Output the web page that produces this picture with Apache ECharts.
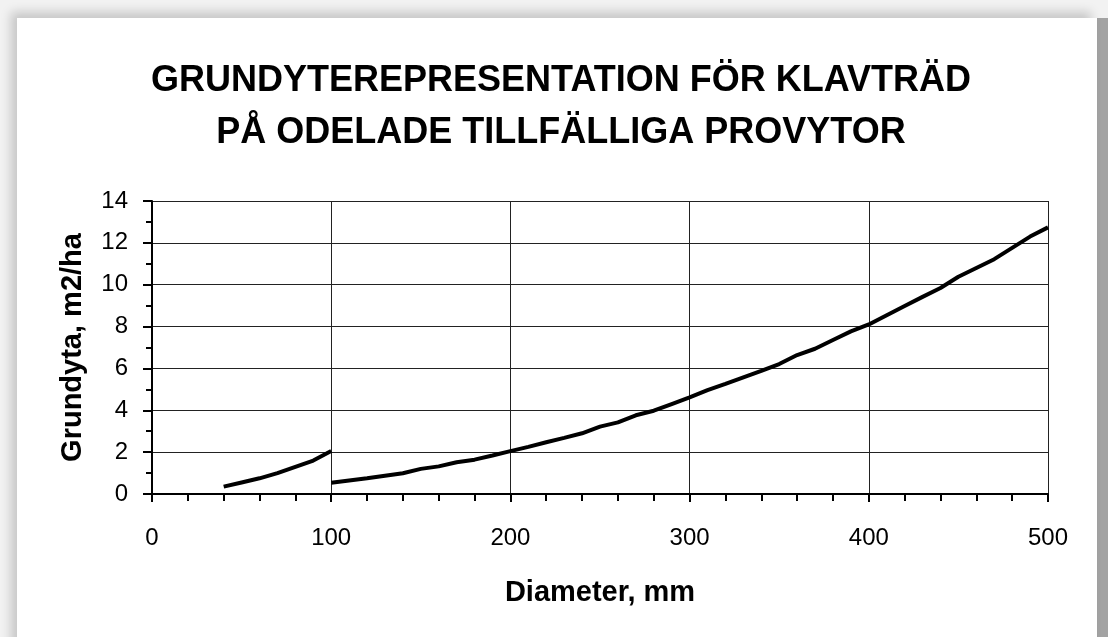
<!DOCTYPE html>
<html>
<head>
<meta charset="utf-8">
<script src="https://cdn.jsdelivr.net/npm/echarts@6/dist/echarts.min.js"></script>
<style>
  html, body { margin: 0; padding: 0; width: 1108px; height: 637px; overflow: hidden; background: #f2f2f2; }
  #frame {
    position: absolute; left: 17px; top: 18px; width: 1080px; height: 640px;
    background: #fff;
    box-shadow: -6px -6px 10px rgba(0,0,0,0.18), 11px 0 0 #a3a3a3;
  }
  #chart { position: absolute; left: 0; top: 0; width: 1108px; height: 637px; }
</style>
</head>
<body>
<div id="frame"></div>
<div id="chart"></div>
<script>
// segment 1: diameters 40-100 mm
const diamA = [40, 50, 60, 70, 80, 90, 100];
const areaA = [0.35, 0.55, 0.75, 1.0, 1.3, 1.6, 2.05];

// segment 2: diameters 100-500 mm
const diamB = [100, 110, 120, 130, 140, 150, 160, 170, 180, 190, 200,
  210, 220, 230, 240, 250, 260, 270, 280, 290, 300,
  310, 320, 330, 340, 350, 360, 370, 380, 390, 400,
  410, 420, 430, 440, 450, 460, 470, 480, 490, 500];
const areaB = [0.54, 0.65, 0.75, 0.87, 0.99, 1.2, 1.32, 1.52, 1.64, 1.84, 2.05,
  2.25, 2.47, 2.68, 2.9, 3.22, 3.42, 3.76, 3.98, 4.3, 4.62,
  4.96, 5.26, 5.57, 5.88, 6.21, 6.64, 6.94, 7.36, 7.77, 8.1,
  8.54, 8.98, 9.42, 9.84, 10.38, 10.8, 11.22, 11.76, 12.3, 12.74];

const titleText = 'GRUNDYTEREPRESENTATION FÖR KLAVTRÄD\nPÅ ODELADE TILLFÄLLIGA PROVYTOR';

const pairs = (xs, ys) => xs.map((x, i) => [x, ys[i]]);
const font = '"Liberation Sans", Arial, sans-serif';

const chart = echarts.init(document.getElementById('chart'), null, {renderer: 'canvas'});
chart.setOption({
  animation: false,
  backgroundColor: 'transparent',
  title: {
    text: titleText,
    left: 556, top: 50, textAlign: 'center',
    textStyle: {fontFamily: font, fontSize: 36, fontWeight: 'bold', color: '#000', lineHeight: 52}
  },
  grid: {left: 152, right: 60, top: 201, bottom: 143},
  xAxis: {
    type: 'value', min: 0, max: 500, interval: 100,
    name: 'Diameter, mm', nameLocation: 'middle', nameGap: 84,
    nameTextStyle: {fontFamily: font, fontSize: 29, fontWeight: 'bold', color: '#000'},
    axisLine: {show: true, onZero: false, lineStyle: {color: '#000', width: 2}},
    axisTick: {show: true, inside: false, length: 8, lineStyle: {color: '#000', width: 2}},
    minorTick: {show: true, splitNumber: 5, length: 7, lineStyle: {color: '#000', width: 2}},
    axisLabel: {fontFamily: font, fontSize: 24, color: '#000', margin: 32},
    splitLine: {show: true, lineStyle: {color: '#222', width: 1}}
  },
  yAxis: {
    type: 'value', min: 0, max: 14, interval: 2,
    name: 'Grundyta, m2/ha', nameLocation: 'middle', nameGap: 65,
    nameTextStyle: {fontFamily: font, fontSize: 29, fontWeight: 'bold', color: '#000'},
    axisLine: {show: true, lineStyle: {color: '#000', width: 2}},
    axisTick: {show: true, inside: false, length: 9, lineStyle: {color: '#000', width: 2}},
    minorTick: {show: true, splitNumber: 2, length: 6, lineStyle: {color: '#000', width: 2}},
    axisLabel: {fontFamily: font, fontSize: 24, color: '#000', margin: 24},
    splitLine: {show: true, lineStyle: {color: '#222', width: 1}}
  },
  series: [
    {
      type: 'line', data: pairs(diamA, areaA), showSymbol: false, symbol: 'none',
      lineStyle: {color: '#000', width: 4}
    },
    {
      type: 'line', data: pairs(diamB, areaB), showSymbol: false, symbol: 'none',
      lineStyle: {color: '#000', width: 4}
    }
  ]
});
</script>
</body>
</html>
